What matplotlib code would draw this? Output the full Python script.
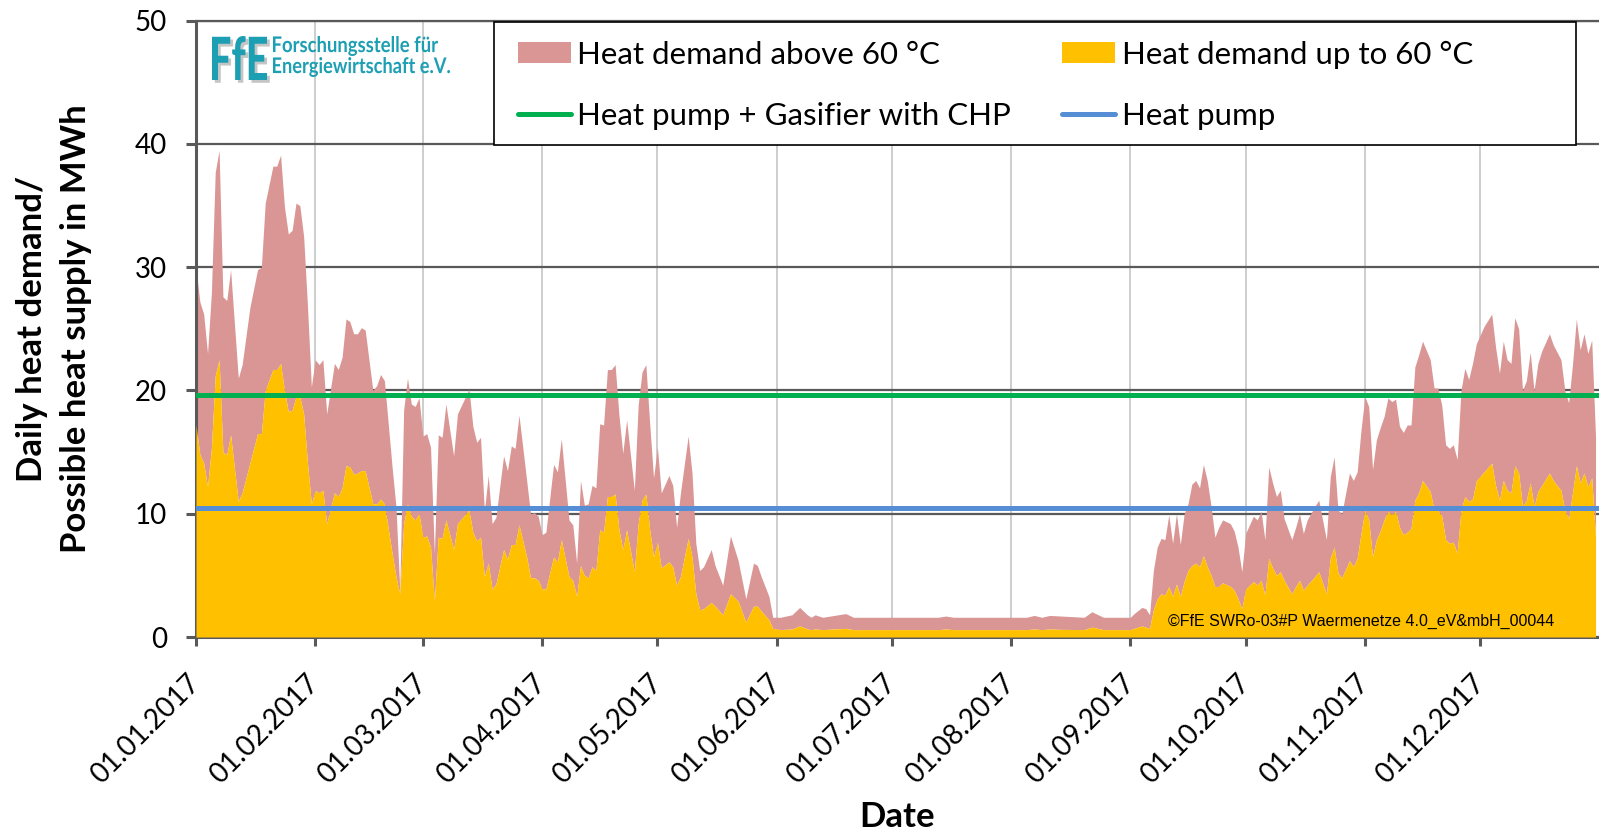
import numpy as np
import matplotlib
matplotlib.use("Agg")
import matplotlib.pyplot as plt
from matplotlib.patches import Patch, Rectangle, PathPatch
from matplotlib.lines import Line2D
from matplotlib.textpath import TextPath
from matplotlib.font_manager import FontProperties
from matplotlib.transforms import Affine2D, IdentityTransform
import matplotlib.patheffects as pe

# ---------------- data ----------------
day_index = [
    0, 1, 2, 3, 4, 5, 6, 7, 8, 9, 11, 12, 14, 16, 17, 18, 20, 21, 22, 23, 24, 25, 26, 27, 28, 29,
    30, 31, 32, 33, 34, 36, 37, 38, 39, 40, 41, 42, 43, 44, 46, 47, 48, 49, 51, 52, 53, 54, 55, 56,
    57, 58, 59, 60, 61, 62, 63, 64, 65, 67, 68, 71, 72, 73, 74, 75, 76, 77, 78, 80, 81, 82, 83, 84,
    86, 87, 88, 89, 90, 91, 93, 94, 95, 97, 98, 99, 100, 101, 102, 103, 104, 105, 106, 107, 108,
    109, 110, 111, 112, 114, 115, 116, 117, 118, 119, 120, 121, 123, 124, 125, 126, 128, 129, 130,
    131, 132, 134, 135, 137, 139, 141, 143, 145, 146, 147, 149, 150, 152, 155, 157, 159, 160, 161,
    163, 169, 171, 193, 195, 197, 216, 218, 220, 222, 225, 231, 233, 236, 243, 244, 246, 247, 248,
    249, 250, 251, 252, 253, 254, 255, 256, 257, 258, 259, 260, 261, 262, 263, 264, 265, 266, 267,
    269, 270, 271, 272, 273, 275, 276, 277, 278, 279, 280, 281, 282, 283, 285, 286, 287, 288, 289,
    291, 292, 294, 295, 296, 297, 298, 300, 301, 302, 303, 304, 305, 306, 307, 308, 309, 310, 311,
    312, 313, 314, 315, 316, 317, 318, 319, 321, 322, 323, 324, 325, 326, 327, 328, 329, 330, 331,
    332, 333, 335, 337, 338, 339, 340, 341, 342, 343, 344, 345, 346, 347, 348, 349, 350, 352, 353,
    355, 356, 357, 358, 359, 360, 361, 362, 363, 364,
]
# total daily heat demand (top of the pink area), MWh
demand_total = [
    29.9, 27.2, 26.2, 23.0, 27.9, 37.7, 39.5, 27.6, 27.3, 29.8, 21.0, 22.1, 26.7, 29.8, 30.0, 35.2,
    38.2, 38.2, 39.1, 34.9, 32.7, 33.0, 35.2, 35.0, 32.5, 26.8,
    20.3, 22.5, 22.1, 22.5, 18.1, 22.2, 21.7, 22.7, 25.8, 25.6, 24.6, 24.6, 25.1, 24.9, 20.0, 20.4,
    21.3, 20.8, 13.8, 10.6, 3.8, 18.4, 21.0, 18.9,
    18.7, 19.4, 16.3, 16.5, 15.4, 6.8, 16.4, 16.2, 18.9, 14.7, 18.1, 20.1, 17.1, 15.8, 16.2, 10.2,
    13.1, 9.2, 9.7, 14.7, 13.5, 15.5, 15.3, 18.0,
    12.7, 10.0, 10.1, 9.8, 8.3, 8.5, 14.0, 13.4, 16.1, 9.5, 9.1, 6.0, 12.7, 10.7, 10.8, 12.3, 12.1,
    17.3, 17.2, 21.7, 21.7,
    22.1, 18.0, 14.9, 17.6, 11.9, 18.8, 21.5, 22.1, 17.3, 12.9, 15.4, 11.7, 13.1, 12.3, 8.9, 11.7,
    16.3, 13.3, 7.6,
    5.4, 5.7, 7.1, 5.8, 4.2, 8.2, 6.2, 3.1, 6.0, 5.8, 4.9, 3.3, 1.6, 1.6, 1.8, 2.4, 1.8, 1.6, 1.8,
    1.6, 1.9, 1.6, 1.6, 1.7, 1.6, 1.6, 1.75, 1.6, 1.75, 1.7, 1.6, 2.05, 1.6, 1.6, 1.9, 2.4, 2.3, 1.8,
    5.4, 7.3, 8.0, 7.9, 9.9, 7.6, 10.0, 7.5, 10.0, 10.8, 12.4, 12.7, 12.1, 14.0, 12.7, 10.6, 8.1, 8.9,
    9.5,
    9.2, 8.6, 7.3, 5.3, 8.4, 9.8, 9.5, 10.2, 7.9, 13.8, 12.5, 11.4, 11.9, 9.6, 7.9, 8.9, 10.0, 8.4,
    9.5,
    10.6, 11.1, 7.9, 13.0, 14.6, 10.3, 10.0, 13.3, 12.7, 13.4, 16.8, 19.5, 18.7, 13.6, 16.0, 17.0,
    17.9, 19.4, 19.1,
    19.3, 17.1, 16.6, 17.2, 17.2, 21.9, 22.9, 24.0, 22.5, 20.2, 20.2, 18.8, 15.6, 15.3, 15.6, 14.4,
    20.0, 21.8, 20.9,
    22.2, 23.8, 25.2, 26.2, 23.5, 21.4, 24.0, 22.5, 22.2, 25.9, 25.0, 20.0, 20.8, 23.1, 20.0, 22.2,
    23.2, 24.6, 23.7,
    22.5, 20.0, 19.0, 22.1, 25.8, 23.3, 24.6, 23.0, 24.1, 16.2,
]
# daily heat demand up to 60 degC (top of the yellow area), MWh
demand_up_to_60 = [
    17.2, 14.8, 14.1, 12.2, 15.3, 21.2, 22.5, 15.0, 14.8, 16.4, 11.0, 11.7, 14.1, 16.5, 16.5, 20.0,
    21.7, 21.7, 22.2, 20.0, 18.3, 18.4, 19.5, 19.5, 18.1, 14.1,
    10.8, 11.9, 11.7, 11.9, 9.2, 11.7, 11.4, 12.1, 13.9, 13.8, 13.2, 13.3, 13.5, 13.5, 10.8, 10.8,
    11.2, 10.8, 6.8, 4.9, 3.5, 9.2, 10.8, 9.8,
    9.5, 10.0, 8.1, 8.2, 7.3, 2.9, 8.1, 8.0, 9.5, 7.1, 9.2, 10.3, 8.5, 7.8, 8.1, 4.9,
    6.0, 3.9, 4.3, 7.1, 6.3, 7.5, 7.5, 9.1,
    6.5, 4.8, 4.8, 4.6, 3.9, 3.9, 6.5, 6.1, 7.9, 4.9, 4.6, 3.3, 5.8, 5.0, 4.8, 5.7, 5.4,
    8.7, 8.5, 11.4, 11.4,
    11.6, 8.7, 7.1, 8.7, 5.3, 9.2, 11.1, 11.6, 8.7, 6.5, 7.7, 5.6, 6.1, 5.7, 4.2, 4.9,
    8.0, 6.5, 3.5,
    2.2, 2.3, 2.8, 2.5, 1.8, 3.5, 2.9, 1.2, 2.5, 2.5, 2.1, 1.4, 0.7, 0.6, 0.65, 0.9, 0.65, 0.6, 0.65,
    0.6, 0.7, 0.6, 0.6, 0.65, 0.6, 0.6, 0.65, 0.6, 0.65, 0.62, 0.6, 0.8, 0.6, 0.6, 0.7, 0.9, 0.8, 0.7,
    2.2, 3.1, 3.5, 3.4, 4.1, 3.3, 4.3, 3.3, 4.5, 5.4, 5.8, 6.0, 5.7, 6.6, 5.7, 5.0, 4.1, 4.1,
    4.4,
    4.1, 3.8, 3.1, 2.3, 3.9, 4.5, 4.2, 4.6, 3.4, 6.4, 5.6, 5.0, 5.3, 4.6, 3.5, 4.1, 4.6, 3.8,
    4.2,
    4.9, 5.3, 3.5, 6.4, 7.3, 5.2, 4.8, 6.2, 5.7, 6.4, 8.4, 10.3, 9.5, 6.5, 7.9, 8.6,
    9.5, 10.2, 9.9,
    10.2, 8.9, 8.3, 8.5, 8.8, 11.1, 11.7, 12.7, 11.8, 10.3, 10.3, 9.8, 7.9, 7.6, 7.7, 6.8,
    10.3, 11.4, 11.0,
    11.2, 12.7, 13.4, 14.1, 12.3, 11.1, 12.7, 11.9, 11.7, 13.9, 13.3, 10.6, 11.1, 12.5, 10.6, 11.8,
    12.3, 13.3, 12.7,
    11.9, 10.3, 9.6, 11.7, 13.9, 12.5, 13.3, 12.2, 12.9, 8.1,
]
supply_hp_gasifier_chp = 19.6   # MWh per day
supply_hp = 10.5                # MWh per day

month_starts = ["2017-01-01", "2017-02-01", "2017-03-01", "2017-04-01", "2017-05-01", "2017-06-01",
                "2017-07-01", "2017-08-01", "2017-09-01", "2017-10-01", "2017-11-01", "2017-12-01"]
month_labels = ["01.01.2017", "01.02.2017", "01.03.2017", "01.04.2017", "01.05.2017", "01.06.2017",
                "01.07.2017", "01.08.2017", "01.09.2017", "01.10.2017", "01.11.2017", "01.12.2017"]
y_ticks = [0, 10, 20, 30, 40, 50]
legend_labels = ["Heat demand above 60 °C", "Heat pump + Gasifier with CHP",
                 "Heat demand up to 60 °C", "Heat pump"]

# ---------------- style ----------------
PINK = "#D99694"
YELLOW = "#FFC000"
GREEN = "#00B050"
BLUE = "#558ED5"
DARK = "#595959"
LIGHT = "#C0C0C0"
TEAL = "#1C9FB3"

plt.rcParams["font.family"] = ["Lato", "DejaVu Sans"]

W, H = 1599, 836
fig = plt.figure(figsize=(W / 100, H / 100), dpi=100)
left, right, top, bottom = 196, 1599, 20.7, 637
ax = fig.add_axes([left / W, 1 - bottom / H, (right - left) / W, (bottom - top) / H])

dates = np.datetime64("2017-01-01") + np.array(day_index).astype("timedelta64[D]")
total = np.array(demand_total)
low = np.array(demand_up_to_60)

ax.fill_between(dates, low, total, color=PINK, lw=0, zorder=2)
ax.fill_between(dates, 0, low, color=YELLOW, lw=0, zorder=3)
ax.axhline(supply_hp_gasifier_chp, color=GREEN, lw=3.6, zorder=4)
ax.axhline(supply_hp, color=BLUE, lw=3.6, zorder=4)

ax.set_xlim(np.datetime64("2017-01-01"), np.datetime64("2017-12-31T21:30"))
ax.set_ylim(0, 50)
ax.set_yticks(y_ticks)
ax.set_xticks([np.datetime64(m) for m in month_starts])
ax.set_xticklabels(month_labels, rotation=45, ha="right", va="center", rotation_mode="anchor")

ax.tick_params(axis="x", length=6.5, width=2.2, color=DARK, pad=24, labelsize=20)
ax.tick_params(axis="y", length=7, width=2.2, color=DARK, pad=14, labelsize=20)

for s in ("left", "bottom"):
    ax.spines[s].set_color(DARK)
    ax.spines[s].set_linewidth(2.2)
ax.spines["top"].set_color(DARK)
ax.spines["top"].set_linewidth(1.6)
ax.spines["right"].set_visible(False)

ax.set_axisbelow(True)
ax.yaxis.grid(True, color=DARK, lw=1.6)
ax.xaxis.grid(True, color=LIGHT, lw=1.1)

ax.set_xlabel("Date", fontsize=25, fontweight="bold")
ax.xaxis.set_label_coords(0.5, -0.292)
ax.xaxis.label.set_va("center")
ax.set_ylabel("Daily heat demand/\nPossible heat supply in MWh", fontsize=25,
              fontweight="bold", linespacing=1.45)
ax.yaxis.set_label_coords(-0.1012, 0.5)
ax.yaxis.label.set_va("center")

# legend with a manually sized frame
frame = Rectangle((494 / W, 1 - 145 / H), (1576 - 494) / W, (145 - 22) / H,
                  transform=fig.transFigure, facecolor="white", edgecolor="black",
                  lw=1.2, zorder=6, clip_on=False)
ax.add_patch(frame)
handles = [Patch(facecolor=PINK, edgecolor="none"),
           Line2D([], [], color=GREEN, lw=3.6, solid_capstyle="round"),
           Patch(facecolor=YELLOW, edgecolor="none"),
           Line2D([], [], color=BLUE, lw=3.6, solid_capstyle="round")]
leg = ax.legend(handles, legend_labels, ncol=2, frameon=False, fontsize=22.5,
                loc="upper left", bbox_to_anchor=(518 / W, 1 - 40.5 / H),
                bbox_transform=fig.transFigure, borderpad=0, borderaxespad=0,
                handlelength=1.7, handleheight=0.64, handletextpad=0.2,
                columnspacing=1.63, labelspacing=1.06)
leg.set_zorder(7)


# logo: text outlines fitted into the boxes they occupy in the picture
def fitted_text(s, x0, x1, ytop, ybot, weight, color, shadow=False):
    tp = TextPath((0, 0), s, size=100, prop=FontProperties(family="Lato", weight=weight))
    ext = tp.get_extents()
    tr = (Affine2D().translate(-ext.x0, -ext.y0)
          .scale((x1 - x0) / ext.width, (ybot - ytop) / ext.height)
          .translate(x0, H - ybot))
    patch = PathPatch(tr.transform_path(tp), facecolor=color, edgecolor="none",
                      transform=IdentityTransform())
    if shadow:
        patch.set_path_effects([pe.SimplePatchShadow(offset=(2, -2), shadow_rgbFace="#8c8c8c",
                                                     alpha=0.5), pe.Normal()])
    fig.add_artist(patch)


fitted_text("FfE", 212, 267, 36, 80, "black", TEAL, shadow=True)
fitted_text("Forschungsstelle für", 273, 438, 36, 56, "bold", TEAL)
fitted_text("Energiewirtschaft e.V.", 273, 450, 57, 77, "bold", TEAL)

# copyright note
ax.text(1168 / W, 1 - 621 / H, "©FfE SWRo-03#P Waermenetze 4.0_eV&mbH_00044", fontsize=11.5,
        family="Liberation Sans", color="black", va="center", ha="left",
        transform=fig.transFigure, zorder=8)

fig.savefig("out.png", dpi=100)
